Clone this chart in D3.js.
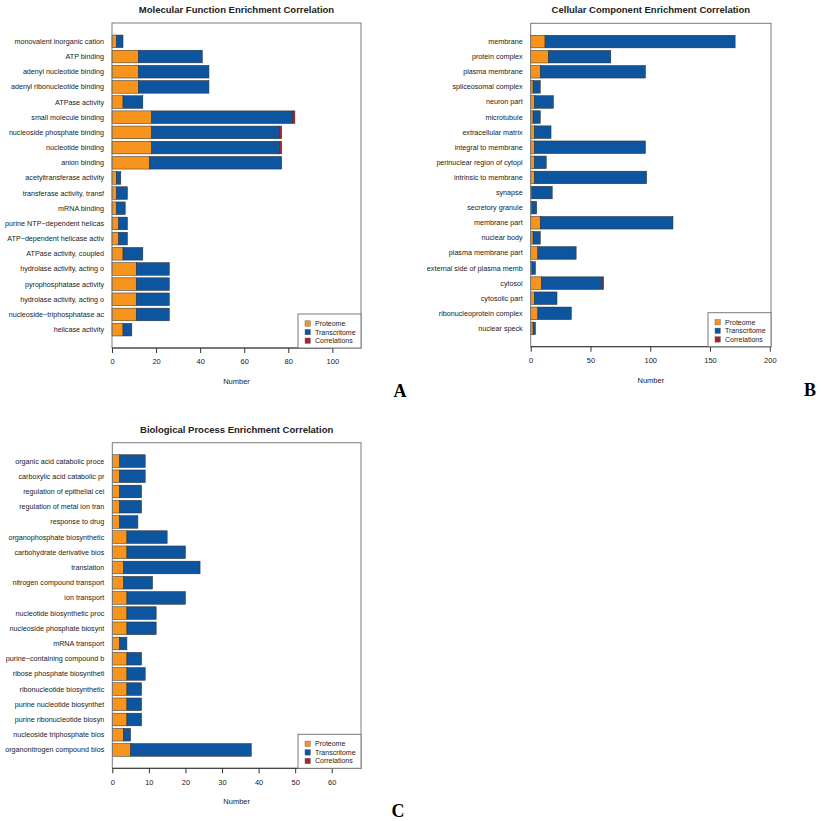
<!DOCTYPE html>
<html>
<head>
<meta charset="utf-8">
<script src="https://cdn.jsdelivr.net/npm/d3@7"></script>
<style>
  body { margin: 0; background: #fff; }
  svg { font-family: "Liberation Sans", Arial, sans-serif; }
</style>
</head>
<body>
<div id="chart"></div>
<script>
const svgWidth = 821, svgHeight = 821;

// Molecular function
const mfTerms = ['monovalent inorganic cation', 'ATP binding', 'adenyl nucleotide binding', 'adenyl ribonucleotide binding',
  'ATPase activity', 'small molecule binding', 'nucleoside phosphate binding', 'nucleotide binding', 'anion binding',
  'acetyltransferase activity', 'transferase activity, transf', 'mRNA binding', 'purine NTP\u2212dependent helicas',
  'ATP\u2212dependent helicase activ', 'ATPase activity, coupled', 'hydrolase activity, acting o', 'pyrophosphatase activity',
  'hydrolase activity, acting o', 'nucleoside\u2212triphosphatase ac', 'helicase activity'];
const mfProteome = [2, 12, 12, 12, 5, 18, 18, 18, 17, 2, 2, 2, 3, 3, 5, 11, 11, 11, 11, 5];
const mfTranscriptome = [3, 29, 32, 32, 9, 64, 58, 58, 60, 2, 5, 4, 4, 4, 9, 15, 15, 15, 15, 4];
const mfCorrelations = [0, 0, 0, 0, 0, 1, 1, 1, 0, 0, 0, 0, 0, 0, 0, 0, 0, 0, 0, 0];

// Cellular component
const ccTerms = ['membrane', 'protein complex', 'plasma membrane', 'spliceosomal complex', 'neuron part', 'microtubule',
  'extracellular matrix', 'integral to membrane', 'perinuclear region of cytopl', 'intrinsic to membrane', 'synapse',
  'secretory granule', 'membrane part', 'nuclear body', 'plasma membrane part', 'external side of plasma memb',
  'cytosol', 'cytosolic part', 'ribonucleoprotein complex', 'nuclear speck'];
const ccProteome = [12, 15, 8, 2, 3, 2, 3, 3, 3, 3, 1, 1, 8, 2, 6, 1, 9, 3, 6, 2];
const ccTranscriptome = [159, 52, 88, 6, 16, 6, 14, 93, 10, 94, 17, 4, 111, 6, 32, 3, 51, 19, 28, 2];
const ccCorrelations = [0, 0, 0, 0, 0, 0, 0, 0, 0, 0, 0, 0, 0, 0, 0, 0, 1, 0, 0, 0];

// Biological process
const bpTerms = ['organic acid catabolic proce', 'carboxylic acid catabolic pr', 'regulation of epithelial cel',
  'regulation of metal ion tran', 'response to drug', 'organophosphate biosynthetic', 'carbohydrate derivative bios',
  'translation', 'nitrogen compound transport', 'ion transport', 'nucleotide biosynthetic proc',
  'nucleoside phosphate biosynt', 'mRNA transport', 'purine\u2212containing compound b', 'ribose phosphate biosyntheti',
  'ribonucleotide biosynthetic ', 'purine nucleotide biosynthet', 'purine ribonucleotide biosyn',
  'nucleoside triphosphate bios', 'organonitrogen compound bios'];
const bpProteome = [2, 2, 2, 2, 2, 4, 4, 3, 3, 4, 4, 4, 2, 4, 4, 4, 4, 4, 3, 5];
const bpTranscriptome = [7, 7, 6, 6, 5, 11, 16, 21, 8, 16, 8, 8, 2, 4, 5, 4, 4, 4, 2, 33];
const bpCorrelations = [0, 0, 0, 0, 0, 0, 0, 0, 0, 0, 0, 0, 0, 0, 0, 0, 0, 0, 0, 0];

const seriesNames = ['Proteome', 'Transcritome', 'Correlations'];
const seriesColors = ['#f7941e', '#0e559f', '#b2202f'];

const svg = d3.select('#chart')
  .append('svg')
  .attr('width', svgWidth)
  .attr('height', svgHeight);

function drawPanel(opts) {
  const { title, terms, values, box, xMax, ticks, letter } = opts;
  const g = svg.append('g');
  const n = terms.length;

  // R barplot style: bars of width 1 with 0.2 space, 4% padding
  const span = n * 1.2 - 0.2;
  const yScale = d3.scaleLinear()
    .domain([0.2 - 0.04 * span, n * 1.2 + 0.04 * span])
    .range([box.bottom, box.top]);
  const xScale = d3.scaleLinear().domain([0, xMax]).range([box.left, box.right]);

  const rows = terms.map((t, i) => ({
    term: t,
    pos: n - 1 - i,
    vals: values.map(v => v[i])
  }));

  const stack = d3.stack().keys([0, 1, 2]).value((d, k) => d.vals[k]);
  const layers = stack(rows);

  layers.forEach((layer, k) => {
    g.append('g').selectAll('rect')
      .data(layer.filter(d => d[1] > d[0]))
      .enter()
      .append('rect')
      .attr('x', d => xScale(d[0]))
      .attr('width', d => xScale(d[1]) - xScale(d[0]))
      .attr('y', d => yScale(1.2 + d.data.pos * 1.2))
      .attr('height', d => yScale(0.2 + d.data.pos * 1.2) - yScale(1.2 + d.data.pos * 1.2))
      .attr('fill', seriesColors[k])
      .attr('stroke', '#2b2b2b')
      .attr('stroke-width', 0.5);
  });

  g.append('g').selectAll('text.term')
    .data(rows)
    .enter()
    .append('text')
    .attr('class', 'term')
    .attr('x', box.left - 8)
    .attr('y', d => yScale(0.7 + d.pos * 1.2))
    .attr('dy', '0.35em')
    .attr('text-anchor', 'end')
    .attr('font-size', 7.2)
    .attr('fill', '#222')
    .text(d => d.term);

  // plot frame
  g.append('rect')
    .attr('x', box.left)
    .attr('y', box.top)
    .attr('width', box.right - box.left)
    .attr('height', box.bottom - box.top)
    .attr('fill', 'none')
    .attr('stroke', '#7a7a7a')
    .attr('stroke-width', 1);

  // x axis
  const axis = g.append('g')
    .attr('transform', `translate(0,${box.bottom})`)
    .call(d3.axisBottom(xScale).tickValues(ticks).tickSize(5).tickPadding(6).tickSizeOuter(0));
  axis.select('.domain').attr('d', `M${xScale(ticks[0])},0H${xScale(ticks[ticks.length - 1])}`).attr('stroke', '#333');
  axis.selectAll('.tick line').attr('stroke', '#333');
  axis.selectAll('text')
    .attr('font-family', '"Liberation Sans", Arial, sans-serif')
    .attr('font-size', 7.5)
    .attr('fill', '#222');

  g.append('text')
    .attr('x', (box.left + box.right) / 2)
    .attr('y', box.bottom + 36)
    .attr('text-anchor', 'middle')
    .attr('font-size', 7.5)
    .attr('fill', '#222')
    .text('Number');

  g.append('text')
    .attr('x', (box.left + box.right) / 2)
    .attr('y', box.top - 10)
    .attr('text-anchor', 'middle')
    .attr('font-size', 9.5)
    .attr('font-weight', 'bold')
    .attr('fill', '#222')
    .text(title);

  // legend
  const lg = g.append('g');
  const lw = 63, lh = 34;
  lg.append('rect')
    .attr('x', box.right - lw)
    .attr('y', box.bottom - lh)
    .attr('width', lw)
    .attr('height', lh)
    .attr('fill', '#fff')
    .attr('stroke', '#7a7a7a')
    .attr('stroke-width', 1);
  const item = lg.selectAll('g.item')
    .data(seriesNames)
    .enter()
    .append('g')
    .attr('transform', (d, i) => `translate(${box.right - lw + 7},${box.bottom - lh + 9.5 + i * 8.6})`);
  item.append('rect')
    .attr('x', 0)
    .attr('y', -2.7)
    .attr('width', 5.4)
    .attr('height', 5.4)
    .attr('fill', (d, i) => seriesColors[i])
    .attr('stroke', '#555')
    .attr('stroke-width', 0.4);
  item.append('text')
    .attr('x', 10)
    .attr('dy', '0.35em')
    .attr('font-size', 7)
    .attr('fill', '#222')
    .text(d => d);

  svg.append('text')
    .attr('x', letter.x)
    .attr('y', letter.y)
    .attr('text-anchor', 'middle')
    .attr('font-family', '"Liberation Serif", "Times New Roman", serif')
    .attr('font-weight', 'bold')
    .attr('font-size', 18)
    .attr('fill', '#000')
    .text(letter.text);
}

drawPanel({
  title: 'Molecular Function Enrichment Correlation',
  terms: mfTerms,
  values: [mfProteome, mfTranscriptome, mfCorrelations],
  box: { left: 112, right: 361, top: 23, bottom: 348 },
  xMax: 113,
  ticks: [0, 20, 40, 60, 80, 100],
  letter: { text: 'A', x: 400, y: 397 }
});

drawPanel({
  title: 'Cellular Component Enrichment Correlation',
  terms: ccTerms,
  values: [ccProteome, ccTranscriptome, ccCorrelations],
  box: { left: 530.7, right: 771, top: 23.3, bottom: 346.7 },
  xMax: 201,
  ticks: [0, 50, 100, 150, 200],
  letter: { text: 'B', x: 810, y: 396 }
});

drawPanel({
  title: 'Biological Process Enrichment Correlation',
  terms: bpTerms,
  values: [bpProteome, bpTranscriptome, bpCorrelations],
  box: { left: 112.3, right: 361, top: 442.7, bottom: 768.3 },
  xMax: 68,
  ticks: [0, 10, 20, 30, 40, 50, 60],
  letter: { text: 'C', x: 398, y: 817 }
});
</script>
</body>
</html>
